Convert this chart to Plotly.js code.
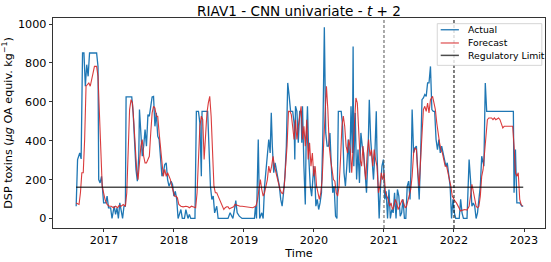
<!DOCTYPE html>
<html>
<head>
<meta charset="utf-8">
<script src="https://cdn.plot.ly/plotly-3.0.1.min.js"></script>
<style>html,body{margin:0;padding:0;background:#fff;}#chart{width:551px;height:262px;}</style>
</head>
<body>
<div id="chart"></div>
<script>
// ---- Data (decimal years, toxin values in µg OA equiv. kg^-1) ----
const actualYears = [2016.603,2016.623,2016.654,2016.674,2016.694,2016.714,2016.734,2016.754,2016.774,2016.794,
2016.844,2016.895,2016.915,2016.925,2016.945,2016.965,2016.995,2017.025,2017.045,2017.065,
2017.095,2017.115,2017.146,2017.166,2017.186,2017.206,2017.226,2017.246,2017.266,2017.286,
2017.306,2017.316,2017.397,2017.417,2017.437,2017.457,2017.477,2017.497,2017.507,2017.527,
2017.547,2017.567,2017.587,2017.607,2017.628,2017.648,2017.668,2017.688,2017.708,2017.728,
2017.748,2017.768,2017.788,2017.808,2017.828,2017.848,2017.868,2017.889,2017.909,2017.929,
2017.959,2017.979,2017.999,2018.019,2018.039,2018.059,2018.079,2018.099,2018.119,2018.150,
2018.170,2018.200,2018.220,2018.240,2018.300,2018.320,2018.350,2018.370,2018.391,2018.401,
2018.481,2018.501,2018.521,2018.541,2018.561,2018.581,2018.611,2018.631,2018.772,2018.802,
2018.822,2018.842,2018.872,2018.883,2018.903,2018.933,2018.973,2019.149,2019.164,2019.179,
2019.204,2019.224,2019.254,2019.274,2019.294,2019.314,2019.334,2019.354,2019.374,2019.390,
2019.405,2019.425,2019.445,2019.465,2019.485,2019.505,2019.525,2019.545,2019.565,2019.585,
2019.605,2019.625,2019.646,2019.666,2019.696,2019.716,2019.726,2019.736,2019.756,2019.776,
2019.796,2019.816,2019.826,2019.836,2019.856,2019.876,2019.887,2019.907,2019.927,2019.947,
2019.967,2019.977,2019.997,2020.017,2020.027,2020.047,2020.067,2020.087,2020.107,2020.127,
2020.148,2020.168,2020.188,2020.208,2020.228,2020.248,2020.268,2020.288,2020.308,2020.328,
2020.348,2020.389,2020.409,2020.429,2020.449,2020.469,2020.489,2020.509,2020.529,2020.549,
2020.559,2020.569,2020.589,2020.609,2020.629,2020.650,2020.670,2020.690,2020.710,2020.730,
2020.750,2020.770,2020.790,2020.810,2020.830,2020.850,2020.870,2020.890,2020.900,2020.921,
2020.931,2020.951,2020.971,2020.991,2021.011,2021.031,2021.051,2021.071,2021.091,2021.111,
2021.131,2021.151,2021.172,2021.192,2021.212,2021.232,2021.252,2021.272,2021.292,2021.312,
2021.332,2021.352,2021.372,2021.392,2021.402,2021.423,2021.443,2021.463,2021.483,2021.503,
2021.523,2021.533,2021.543,2021.563,2021.583,2021.603,2021.623,2021.643,2021.664,2021.684,
2021.704,2021.724,2021.744,2021.764,2021.784,2021.804,2021.824,2021.844,2021.864,2021.884,
2021.904,2021.925,2021.945,2021.965,2021.985,2022.005,2022.025,2022.075,2022.095,2022.115,
2022.135,2022.186,2022.216,2022.236,2022.256,2022.276,2022.296,2022.316,2022.336,2022.356,
2022.376,2022.396,2022.427,2022.447,2022.467,2022.848,2022.858,2022.878,2022.898,2022.939,
2022.969,2022.989];
const actualValues = [63,303,337,306,851,851,680,791,731,851,
851,851,782,200,183,217,80,80,115,55,
55,0,63,21,55,0,80,29,0,63,
63,625,625,543,372,252,192,320,560,440,
320,372,457,372,534,526,577,625,628,474,
543,423,406,312,217,235,277,286,200,166,
192,175,115,140,98,0,29,46,0,0,
46,0,21,0,0,551,551,491,217,551,
551,337,166,98,115,29,63,0,0,29,
12,0,63,92,29,12,0,0,63,0,
406,0,29,0,166,235,320,406,337,543,
372,235,286,252,200,166,98,63,132,217,
372,697,628,551,551,491,303,577,551,389,
551,551,389,577,269,72,372,577,303,166,
115,166,269,166,63,98,46,80,132,440,
983,440,372,372,440,269,132,166,12,0,
551,551,474,235,166,269,406,235,577,337,
885,269,543,200,354,183,440,372,337,235,
132,303,611,406,303,200,337,551,337,166,
0,166,269,303,98,140,0,149,0,46,
29,132,0,149,115,12,29,98,0,0,
166,192,98,337,560,337,363,372,235,98,
320,474,611,620,637,628,697,697,782,560,
551,551,406,354,406,337,372,337,303,269,
286,235,166,0,98,29,0,0,98,29,
0,0,303,200,63,80,63,0,29,98,
166,320,269,697,551,551,132,354,80,80,
63,63];

const forecastYears = [2016.603,2016.644,2016.664,2016.684,2016.704,2016.724,2016.744,2016.764,2016.784,2016.804,
2016.824,2016.844,2016.864,2016.895,2016.915,2016.935,2016.955,2016.975,2016.995,2017.015,
2017.045,2017.075,2017.105,2017.136,2017.166,2017.196,2017.216,2017.246,2017.276,2017.306,
2017.326,2017.346,2017.366,2017.387,2017.407,2017.427,2017.447,2017.467,2017.487,2017.507,
2017.527,2017.547,2017.567,2017.587,2017.607,2017.628,2017.648,2017.668,2017.688,2017.708,
2017.728,2017.748,2017.768,2017.788,2017.808,2017.828,2017.848,2017.868,2017.889,2017.909,
2017.929,2017.949,2017.969,2017.989,2018.009,2018.029,2018.049,2018.069,2018.099,2018.130,
2018.170,2018.200,2018.220,2018.250,2018.280,2018.310,2018.330,2018.350,2018.370,2018.391,
2018.411,2018.431,2018.451,2018.471,2018.491,2018.511,2018.531,2018.551,2018.571,2018.591,
2018.611,2018.631,2018.652,2018.672,2018.692,2018.712,2018.732,2018.752,2018.772,2018.792,
2018.822,2018.852,2018.872,2018.903,2018.943,2018.973,2019.023,2019.073,2019.123,2019.154,
2019.174,2019.194,2019.214,2019.234,2019.254,2019.274,2019.294,2019.314,2019.334,2019.354,
2019.374,2019.395,2019.415,2019.435,2019.455,2019.475,2019.495,2019.515,2019.535,2019.555,
2019.575,2019.595,2019.615,2019.636,2019.656,2019.676,2019.696,2019.716,2019.736,2019.756,
2019.776,2019.796,2019.816,2019.836,2019.856,2019.876,2019.897,2019.917,2019.937,2019.957,
2019.977,2019.997,2020.017,2020.037,2020.057,2020.077,2020.097,2020.117,2020.137,2020.158,
2020.178,2020.198,2020.218,2020.238,2020.258,2020.278,2020.298,2020.318,2020.338,2020.358,
2020.379,2020.399,2020.419,2020.439,2020.459,2020.479,2020.499,2020.519,2020.539,2020.559,
2020.579,2020.599,2020.619,2020.639,2020.660,2020.680,2020.700,2020.720,2020.740,2020.760,
2020.780,2020.800,2020.820,2020.840,2020.860,2020.880,2020.900,2020.921,2020.941,2020.961,
2020.981,2021.001,2021.021,2021.041,2021.061,2021.081,2021.101,2021.121,2021.141,2021.161,
2021.182,2021.202,2021.222,2021.242,2021.262,2021.282,2021.302,2021.322,2021.342,2021.362,
2021.382,2021.402,2021.423,2021.443,2021.463,2021.483,2021.503,2021.523,2021.543,2021.563,
2021.583,2021.603,2021.623,2021.643,2021.664,2021.694,2021.714,2021.734,2021.754,2021.774,
2021.794,2021.814,2021.834,2021.854,2021.874,2021.894,2021.915,2021.935,2021.955,2021.975,
2021.995,2022.015,2022.035,2022.055,2022.075,2022.095,2022.125,2022.155,2022.186,2022.216,
2022.236,2022.256,2022.276,2022.296,2022.316,2022.336,2022.356,2022.376,2022.396,2022.416,
2022.437,2022.457,2022.477,2022.497,2022.537,2022.557,2022.577,2022.597,2022.637,2022.657,
2022.677,2022.697,2022.717,2022.838,2022.858,2022.878,2022.898,2022.918,2022.939,2022.959,
2022.979];
const forecastValues = [80,72,132,235,235,406,680,688,697,680,
723,748,782,782,731,543,337,166,132,98,
72,63,63,55,63,55,67,63,72,63,
132,406,560,611,594,491,337,252,200,286,
372,406,320,286,286,303,320,440,543,577,
568,526,526,440,372,269,217,252,217,235,
217,200,166,140,115,115,106,72,63,60,
63,60,55,63,60,55,132,337,474,526,
508,303,440,543,594,628,526,372,166,132,
132,115,98,80,67,46,55,60,60,50,
55,60,72,67,63,63,60,58,55,60,
67,98,158,200,149,115,132,166,200,269,
235,269,320,269,235,200,166,149,132,128,
166,252,372,551,551,534,474,406,508,406,
474,543,577,406,474,372,508,303,389,269,
337,217,269,166,132,98,132,200,372,543,
680,560,372,303,235,200,192,132,115,166,
303,474,526,474,372,337,406,354,235,354,
440,620,594,440,303,269,372,269,200,337,
406,320,354,269,354,303,269,132,166,235,
200,235,132,115,98,63,80,46,63,98,
80,46,63,80,98,80,55,63,98,115,
149,217,337,363,354,235,166,303,474,560,
577,551,594,543,611,628,594,560,491,423,
389,354,337,303,269,269,235,200,166,115,
98,89,80,63,46,38,43,46,43,63,
115,175,140,98,63,55,63,115,217,252,
337,457,508,517,517,508,517,508,517,508,
491,466,474,474,372,235,217,235,98,72,
63];

const regLimit = 160;
const splitYears = [2021, 2022];
const splitColors = ['#555555', '#000000'];
const xTickYears = [2017, 2018, 2019, 2020, 2021, 2022, 2023];
const yTickValues = [0, 200, 400, 600, 800, 1000];
const legendLabels = ['Actual', 'Forecast', 'Regulatory Limit'];

// ---- Styles ----
const FONT = 'DejaVu Sans, Verdana, sans-serif';
const colActual = '#1f77b4';
const colForecast = 'rgba(214,39,40,0.9)';
const colReg = 'rgba(0,0,0,0.7)';

const traces = [
  {x: actualYears, y: actualValues, type: 'scatter', mode: 'lines', name: legendLabels[0],
   line: {color: colActual, width: 1.3}},
  {x: forecastYears, y: forecastValues, type: 'scatter', mode: 'lines', name: legendLabels[1],
   line: {color: colForecast, width: 1.1}},
  {x: [actualYears[0], actualYears[actualYears.length - 1]], y: [regLimit, regLimit],
   type: 'scatter', mode: 'lines', name: legendLabels[2],
   line: {color: colReg, width: 1.5}}
];

// vertical dashed split lines (data x, full axis height)
const shapes = splitYears.map((yr, i) => ({
  type: 'line', xref: 'x', yref: 'paper', x0: yr, x1: yr, y0: 0, y1: 1,
  line: {color: splitColors[i], width: 1, dash: '3px,2px'}, layer: 'above'
}));

// custom legend box (matplotlib-like, compact)
const legColors = [colActual, colForecast, colReg];
const legWidths = [1.3, 1.1, 1.5];
const legY = [0.944, 0.881, 0.822];
shapes.push({type: 'rect', xref: 'paper', yref: 'paper', x0: 0.781, x1: 0.9935, y0: 0.7745, y1: 0.973,
  line: {color: '#cccccc', width: 0.8}, fillcolor: 'rgba(255,255,255,0.8)', layer: 'above'});
const annotations = [];
legendLabels.forEach((lab, i) => {
  shapes.push({type: 'line', xref: 'paper', yref: 'paper', x0: 0.788, x1: 0.825, y0: legY[i], y1: legY[i],
    line: {color: legColors[i], width: legWidths[i]}, layer: 'above'});
  annotations.push({xref: 'paper', yref: 'paper', x: 0.839, y: legY[i], xanchor: 'left', yanchor: 'middle',
    text: lab, showarrow: false, font: {family: FONT, size: 9.3, color: '#000'}});
});

const layout = {
  width: 551, height: 262,
  margin: {l: 53.3, r: 6.1, t: 18.3, b: 33.5, pad: 0},
  paper_bgcolor: '#ffffff', plot_bgcolor: '#ffffff',
  showlegend: false,
  font: {family: FONT, color: '#000'},
  title: {text: 'RIAV1 - CNN univariate - <i>t</i> + 2', font: {family: FONT, size: 13.6, color: '#000'},
          x: 0.5, xanchor: 'center', y: 0.958, yanchor: 'middle', xref: 'paper'},
  xaxis: {
    range: [2016.272, 2023.30], tickmode: 'array', tickvals: xTickYears, ticktext: xTickYears.map(String),
    showgrid: false, zeroline: false, showline: true, mirror: true, linecolor: '#000', linewidth: 0.8,
    ticks: 'outside', ticklen: 3.5, tickwidth: 0.8, tickcolor: '#000', ticklabelstandoff: -2,
    tickfont: {family: FONT, size: 11.2, color: '#000'},
    title: {text: 'Time', font: {family: FONT, size: 11.2, color: '#000'}, standoff: 0}
  },
  yaxis: {
    range: [-49, 1031], tickmode: 'array', tickvals: yTickValues, ticktext: yTickValues.map(String),
    showgrid: false, zeroline: false, showline: true, mirror: true, linecolor: '#000', linewidth: 0.8,
    ticks: 'outside', ticklen: 3.5, tickwidth: 0.8, tickcolor: '#000',
    tickfont: {family: FONT, size: 11.2, color: '#000'},
    title: {text: 'DSP toxins (<i>μg</i> OA equiv. kg<sup>−1</sup>)', font: {family: FONT, size: 11.2, color: '#000'}, standoff: 4}
  },
  shapes: shapes,
  annotations: annotations
};

Plotly.newPlot('chart', traces, layout, {staticPlot: true, displayModeBar: false});
</script>
</body>
</html>
